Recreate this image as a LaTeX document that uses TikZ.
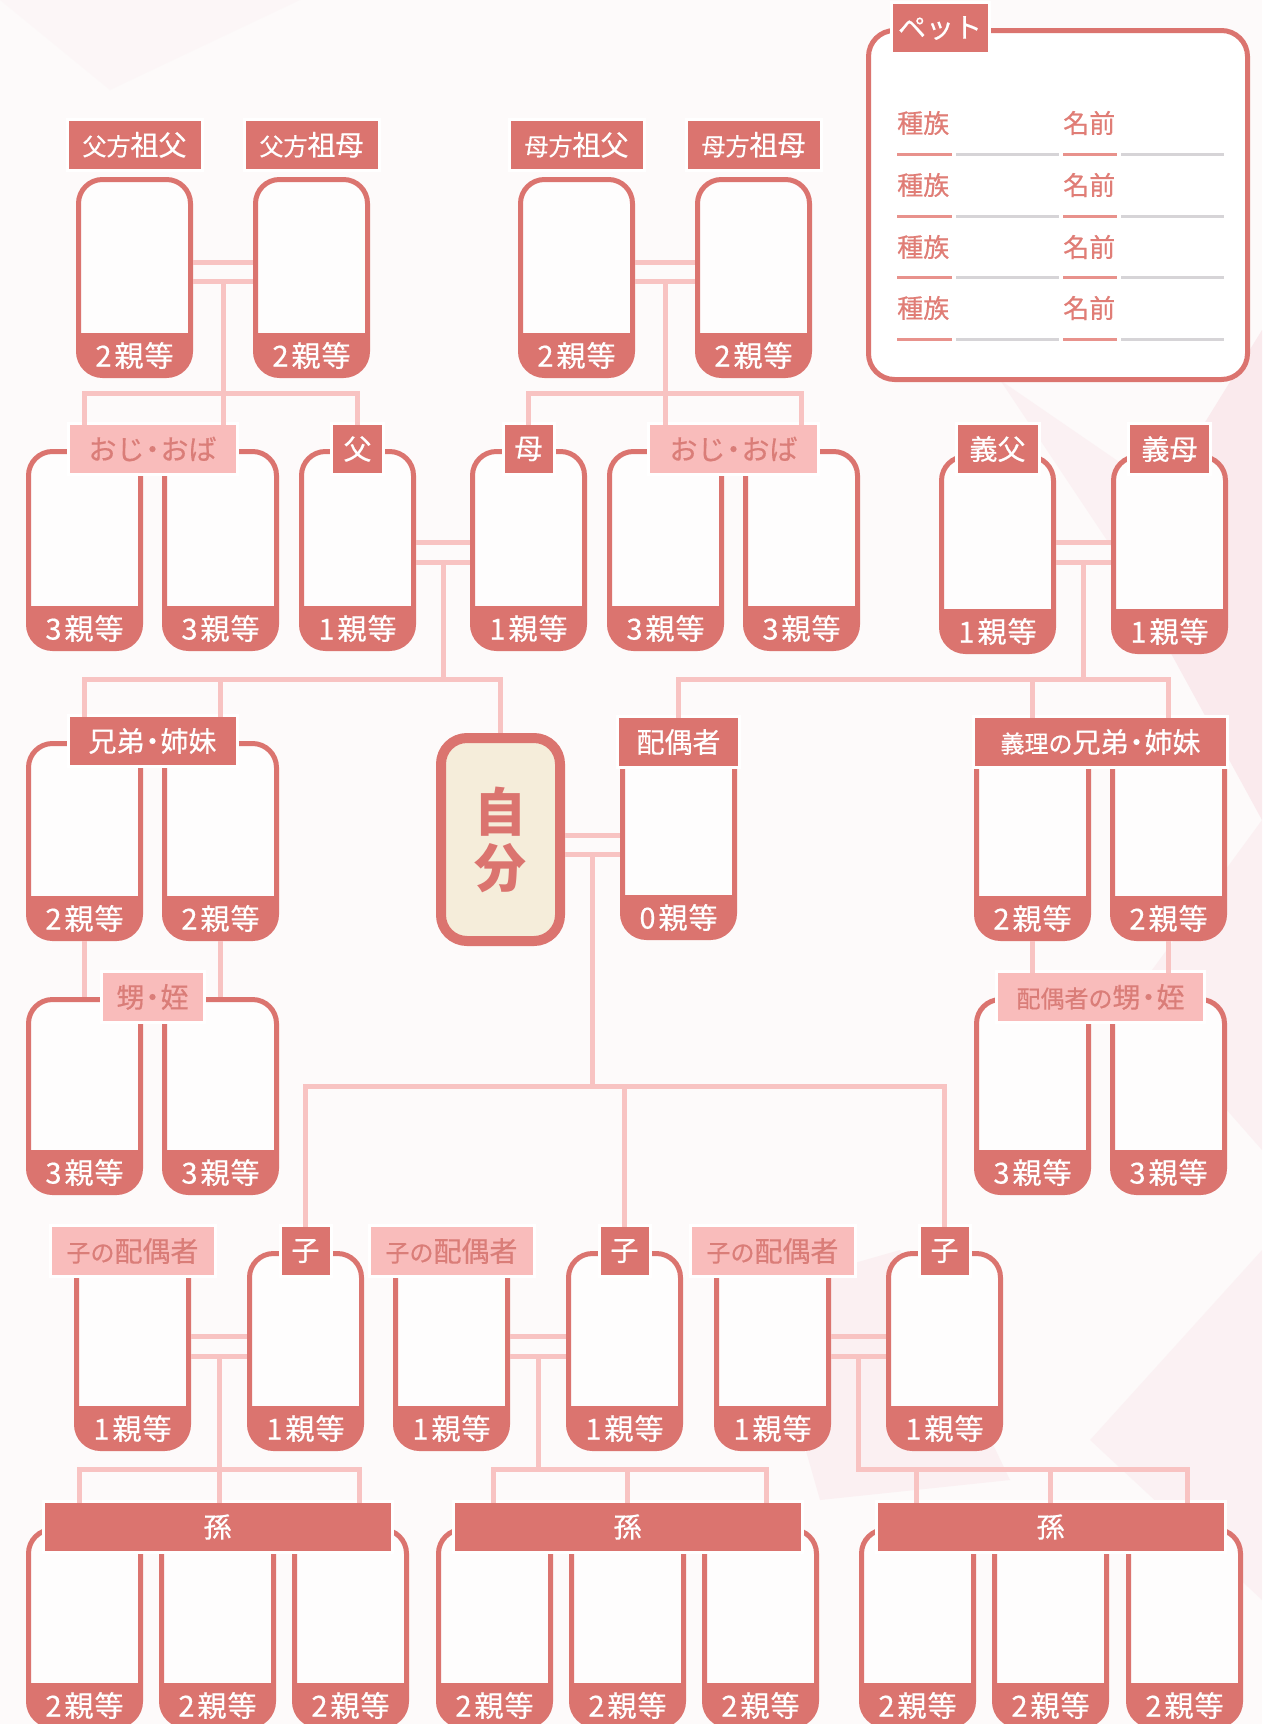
\documentclass[tikz,border=0pt]{standalone}
\usepackage{fontspec}
\setmainfont{Noto Sans CJK JP}
\newfontfamily\kinheavy{Noto Sans CJK JP}[FakeBold=0.5]
\usetikzlibrary{positioning,calc}
\definecolor{kinred}{HTML}{DB746F}
\definecolor{tagpink}{HTML}{F9BCBB}
\definecolor{tagtext}{HTML}{DA7D78}
\definecolor{linkpink}{HTML}{F8C3C2}
\definecolor{selfcream}{HTML}{F5EDDA}
\definecolor{boxwhite}{HTML}{FEFDFD}
\definecolor{bgwhite}{HTML}{FDFAFA}
\definecolor{bgpink}{HTML}{FAEAED}
\definecolor{pettext}{HTML}{E07D76}
\definecolor{petpink}{HTML}{E8928C}
\definecolor{petgrey}{HTML}{D6D4D7}
\newcommand{\kinpre}[1]{{\fontsize{24}{25}\selectfont #1}}
\newcommand{\kindot}{\kern-6pt・\kern-6pt}

\begin{document}
\begin{tikzpicture}[x=1pt,y=-1pt,
  kinbox/.style={draw=kinred, line width=5pt, rounded corners=24pt, fill=boxwhite,
    minimum width=112pt, minimum height=#1, inner sep=0pt, anchor=north west,
    path picture={\fill[kinred, sharp corners] ([yshift=42.5pt]path picture bounding box.south west)
      rectangle (path picture bounding box.south east);}},
  degree/.style={anchor=center, label distance=-22.5pt, text=white, inner sep=0pt,
    font=\kinheavy\fontsize{29}{30}\selectfont},
  deg0/.style={label={[degree]south:0\kern3pt 親\kern1pt 等}},
  deg1/.style={label={[degree]south:1\kern3pt 親\kern1pt 等}},
  deg2/.style={label={[degree]south:2\kern3pt 親\kern1pt 等}},
  deg3/.style={label={[degree]south:3\kern3pt 親\kern1pt 等}},
  tag/.style={fill=kinred, text=white, minimum height=48pt, inner sep=0pt,
    preaction={draw=white, line width=6pt}, font=\kinheavy\fontsize{28}{29}\selectfont},
  pinktag/.style={tag, fill=tagpink, text=tagtext},
  self/.style={draw=kinred, line width=10pt, rounded corners=26pt, fill=selfcream,
    minimum width=119pt, minimum height=203pt, anchor=north west, text=kinred,
    align=center, font=\fontsize{52}{56}\selectfont\bfseries},
  petbox/.style={draw=kinred, line width=5pt, rounded corners=26pt, fill=white,
    minimum width=379pt, minimum height=349pt, anchor=north west},
  petlabel/.style={anchor=west, inner sep=0pt, text=pettext,
    font=\kinheavy\fontsize{26}{27}\selectfont},
  link/.style={draw=linkpink, line width=5pt}]
\useasboundingbox (0,0) rectangle (1262,1724);
\clip (0,0) rectangle (1262,1724);

% Background
\fill[bgwhite] (0,0) rectangle (1262,1724);
\fill[bgpink] (1262,330) -- (1120,560) -- (1262,820) -- cycle;
\fill[bgpink,opacity=.6] (1262,820) -- (1130,1000) -- (1262,1150) -- cycle;
\fill[bgpink,opacity=.5] (1262,560) -- (1000,380) -- (1120,560) -- cycle;
\fill[bgpink,opacity=.6] (760,1290) -- (900,1250) -- (1010,1480) -- (820,1500) -- cycle;
\fill[bgpink,opacity=.5] (1262,1250) -- (1090,1440) -- (1262,1600) -- cycle;
\fill[bgpink,opacity=.2] (0,0) -- (300,0) -- (110,90) -- cycle;

% Construct pets
\node[petbox] (pet) at (866,28) {};
\node[tag, minimum width=95pt] (petl) at ([xshift=74pt]pet.north west) {ペット};
\node[petlabel] (kind1) at (897,123) {種族};
\node[petlabel] (name1) at (1063,123) {名前};
\node[petlabel] (kind2) at (897,185) {種族};
\node[petlabel] (name2) at (1063,185) {名前};
\node[petlabel] (kind3) at (897,247) {種族};
\node[petlabel] (name3) at (1063,247) {名前};
\node[petlabel] (kind4) at (897,308) {種族};
\node[petlabel] (name4) at (1063,308) {名前};
\draw[petpink,line width=3pt] (897,154) -- +(55,0) (1063,154) -- +(54,0)
  (897,216) -- +(55,0) (1063,216) -- +(54,0)
  (897,277) -- +(55,0) (1063,277) -- +(54,0)
  (897,339) -- +(55,0) (1063,339) -- +(54,0);
\draw[petgrey,line width=3pt] (956,154) -- +(103,0) (1121,154) -- +(103,0)
  (956,216) -- +(103,0) (1121,216) -- +(103,0)
  (956,277) -- +(103,0) (1121,277) -- +(103,0)
  (956,339) -- +(103,0) (1121,339) -- +(103,0);

% Construct grandparents
\node[kinbox=196pt, deg2] (gf1) at (76,177) {};
\node[kinbox=196pt, deg2] (gm1) at (253,177) {};
\node[kinbox=196pt, deg2] (gf2) at (518,177) {};
\node[kinbox=196pt, deg2] (gm2) at (695,177) {};
\node[tag, minimum width=132pt, above=8pt of gf1] (gf1l) {\kinpre{父方}祖父};
\node[tag, minimum width=132pt, above=8pt of gm1] (gm1l) {\kinpre{父方}祖母};
\node[tag, minimum width=132pt, above=8pt of gf2] (gf2l) {\kinpre{母方}祖父};
\node[tag, minimum width=132pt, above=8pt of gm2] (gm2l) {\kinpre{母方}祖母};

% Construct parents, uncles and aunts
\node[kinbox=197pt, deg3] (u1) at (26,449) {};
\node[kinbox=197pt, deg3] (u2) at (162,449) {};
\node[kinbox=197pt, deg1] (fa) at (299,449) {};
\node[kinbox=197pt, deg1] (mo) at (470,449) {};
\node[kinbox=197pt, deg3] (u3) at (607,449) {};
\node[kinbox=197pt, deg3] (u4) at (743,449) {};
\node[kinbox=195pt, deg1] (fil) at (939,454) {};
\node[kinbox=195pt, deg1] (mil) at (1111,454) {};
\node[pinktag, minimum width=166pt] (oji1) at ($(u1.north)!.5!(u2.north)$) {おじ\kindot おば};
\node[tag, minimum width=49pt] (fl) at (fa.north) {父};
\node[tag, minimum width=48pt] (ml) at (mo.north) {母};
\node[pinktag, minimum width=167pt] (oji2) at ($(u3.north)!.5!(u4.north)$) {おじ\kindot おば};
\node[tag, minimum width=80pt] (fill) at ([yshift=5pt]fil.north) {義父};
\node[tag, minimum width=79pt] (mill) at ([yshift=5pt]mil.north) {義母};

% Construct self, siblings and spouse
\node[kinbox=195pt, deg2] (sib1) at (26,741) {};
\node[kinbox=195pt, deg2] (sib2) at (162,741) {};
\node[self] (self) at (436,733) {自\\分};
\node[kinbox=193pt, deg0] (sp) at (620,742) {};
\node[kinbox=194pt, deg2] (sil1) at (974,742) {};
\node[kinbox=194pt, deg2] (sil2) at (1110,742) {};
\node[tag, minimum width=166pt] (sibl) at ($(sib1.north)!.5!(sib2.north)$) {兄弟\kindot 姉妹};
\node[tag, minimum width=119pt] (spl) at (sp.north) {配偶者};
\node[tag, minimum width=251pt] (sill) at ($(sil1.north)!.5!(sil2.north)$) {\kinpre{義理の}兄弟\kindot 姉妹};

% Construct nephews and nieces
\node[kinbox=193pt, deg3] (nep1) at (26,997) {};
\node[kinbox=193pt, deg3] (nep2) at (162,997) {};
\node[kinbox=193pt, deg3] (snep1) at (974,997) {};
\node[kinbox=193pt, deg3] (snep2) at (1110,997) {};
\node[pinktag, minimum width=100pt] (nepl) at ($(nep1.north)!.5!(nep2.north)$) {甥\kindot 姪};
\node[pinktag, minimum width=205pt] (snepl) at ($(snep1.north)!.5!(snep2.north)$) {\kinpre{配偶者の}甥\kindot 姪};

% Construct children and their spouses
\node[kinbox=195pt, deg1] (csp1) at (74,1251) {};
\node[kinbox=195pt, deg1] (ch1) at (247,1251) {};
\node[kinbox=195pt, deg1] (csp2) at (393,1251) {};
\node[kinbox=195pt, deg1] (ch2) at (566,1251) {};
\node[kinbox=195pt, deg1] (csp3) at (714,1251) {};
\node[kinbox=195pt, deg1] (ch3) at (886,1251) {};
\node[pinktag, minimum width=162pt] (cspl1) at (csp1.north) {\kinpre{子の}配偶者};
\node[pinktag, minimum width=162pt] (cspl2) at (csp2.north) {\kinpre{子の}配偶者};
\node[pinktag, minimum width=162pt] (cspl3) at (csp3.north) {\kinpre{子の}配偶者};
\node[tag, minimum width=48pt] (chl1) at (ch1.north) {子};
\node[tag, minimum width=48pt] (chl2) at (ch2.north) {子};
\node[tag, minimum width=48pt] (chl3) at (ch3.north) {子};

% Construct grandchildren
\node[kinbox=196pt, deg2] (g11) at (26,1527) {};
\node[kinbox=196pt, deg2] (g12) at (159,1527) {};
\node[kinbox=196pt, deg2] (g13) at (292,1527) {};
\node[kinbox=196pt, deg2] (g21) at (436,1527) {};
\node[kinbox=196pt, deg2] (g22) at (569,1527) {};
\node[kinbox=196pt, deg2] (g23) at (702,1527) {};
\node[kinbox=196pt, deg2] (g31) at (859,1527) {};
\node[kinbox=196pt, deg2] (g32) at (992,1527) {};
\node[kinbox=196pt, deg2] (g33) at (1126,1527) {};
\node[tag, minimum width=346pt] (mg1) at (g12.north) {孫};
\node[tag, minimum width=346pt] (mg2) at (g22.north) {孫};
\node[tag, minimum width=346pt] (mg3) at (g32.north) {孫};

% Connect paternal grandparents
\draw[link] (gf1.north east) ++(0,85) coordinate (a1) -- (a1 -| gm1.west)
  (gf1.north east) ++(0,104) coordinate (b1) -- (b1 -| gm1.west);
\coordinate (j1) at ($(b1)!.5!(b1 -| gm1.west)$);
\draw[link] (j1) -- (j1 |- oji1.north);
\draw[link] (oji1.north -| u1.north) -- ++(0,-31) -| (fl.north);

% Connect maternal grandparents
\draw[link] (gf2.north east) ++(0,85) coordinate (a2) -- (a2 -| gm2.west)
  (gf2.north east) ++(0,104) coordinate (b2) -- (b2 -| gm2.west);
\coordinate (j2) at ($(b2)!.5!(b2 -| gm2.west)$);
\draw[link] (j2) -- (j2 |- oji2.north);
\draw[link] (ml.north) -- ++(0,-31) -| (oji2.north -| u4.north);

% Connect parents
\draw[link] (fa.north east) ++(0,93) coordinate (a3) -- (a3 -| mo.west)
  (fa.north east) ++(0,113) coordinate (b3) -- (b3 -| mo.west);
\coordinate (j3) at ($(b3)!.5!(b3 -| mo.west)$);
\draw[link] (sibl.north -| sib1.north) -- ++(0,-37) coordinate (sbar) -| (self.north);
\draw[link] (j3) -- (j3 |- sbar);
\draw[link] (sibl.north -| sib2.north) -- (sib2.north |- sbar);

% Connect parents-in-law
\draw[link] (fil.north east) ++(0,88) coordinate (a4) -- (a4 -| mil.west)
  (fil.north east) ++(0,108) coordinate (b4) -- (b4 -| mil.west);
\coordinate (j4) at ($(b4)!.5!(b4 -| mil.west)$);
\draw[link] (spl.north) -- ++(0,-38) coordinate (ibar) -| (sill.north -| sil2.north);
\draw[link] (j4) -- (j4 |- ibar);
\draw[link] (sill.north -| sil1.north) -- (sil1.north |- ibar);

% Connect siblings to nephews and nieces
\draw[link] (sib1.south) -- (sib1.south |- nep1.north);
\draw[link] (sib2.south) -- (sib2.south |- nep2.north);
\draw[link] (sil1.south) -- (sil1.south |- snepl.north);
\draw[link] (sil2.south) -- (sil2.south |- snepl.north);

% Connect self and spouse to children
\draw[link] (self.north east) ++(0,102) coordinate (a5) -- (a5 -| sp.west)
  (self.north east) ++(0,121) coordinate (b5) -- (b5 -| sp.west);
\coordinate (j5) at ($(b5)!.5!(b5 -| sp.west)$);
\draw[link] (chl1.north) -- ++(0,-140) coordinate (cbar) -| (chl3.north);
\draw[link] (j5) -- (j5 |- cbar);
\draw[link] (chl2.north) -- (chl2.north |- cbar);

% Connect children to grandchildren
\draw[link] (csp1.north east) ++(0,85) coordinate (a6) -- (a6 -| ch1.west)
  (csp1.north east) ++(0,105) coordinate (b6) -- (b6 -| ch1.west);
\coordinate (j6) at ($(b6)!.5!(b6 -| ch1.west)$);
\draw[link] (j6) -- (j6 |- mg1.north);
\draw[link] ([xshift=-138pt]mg1.north) -- ++(0,-33) -| ([xshift=142pt]mg1.north);

\draw[link] (csp2.north east) ++(0,85) coordinate (a7) -- (a7 -| ch2.west)
  (csp2.north east) ++(0,105) coordinate (b7) -- (b7 -| ch2.west);
\coordinate (j7) at ($(b7)!.5!(b7 -| ch2.west)$);
\draw[link] ([xshift=-134pt]mg2.north) -- ++(0,-33) coordinate (gbar2) -| ([xshift=139pt]mg2.north);
\draw[link] (j7) -- (j7 |- gbar2);
\draw[link] (mg2.north) -- (mg2.north |- gbar2);

\draw[link] (csp3.north east) ++(0,85) coordinate (a8) -- (a8 -| ch3.west)
  (csp3.north east) ++(0,105) coordinate (b8) -- (b8 -| ch3.west);
\coordinate (j8) at ($(b8)!.5!(b8 -| ch3.west)$);
\coordinate (gbar3) at ([yshift=33pt]mg3.north);
\draw[link] (j8) |- ([xshift=137pt]gbar3) -- ([xshift=137pt]mg3.north);
\draw[link] ([xshift=-134pt]gbar3) -- ([xshift=-134pt]mg3.north);
\draw[link] (gbar3) -- (mg3.north);
\end{tikzpicture}
\end{document}
